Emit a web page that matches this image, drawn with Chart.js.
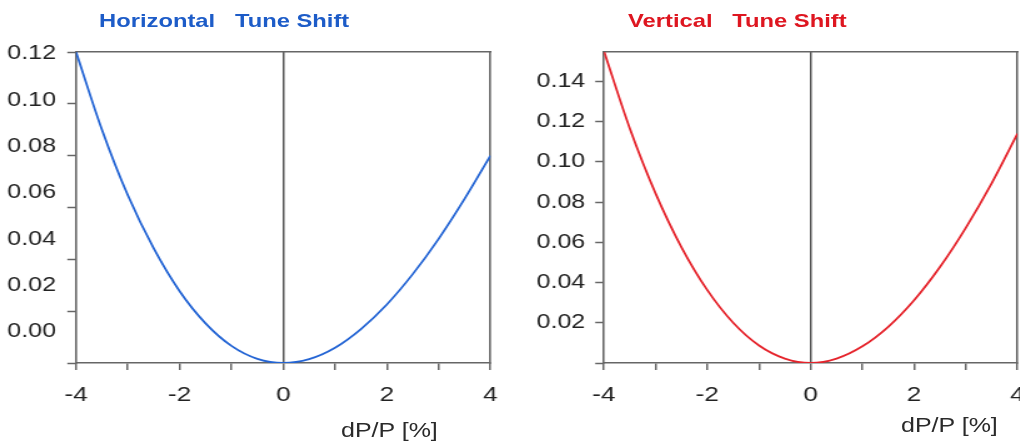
<!DOCTYPE html>
<html>
<head>
<meta charset="utf-8">
<script src="https://cdn.jsdelivr.net/npm/chart.js@4/dist/chart.umd.min.js"></script>
<style>
  html, body { margin: 0; padding: 0; background: #fff; }
  body { width: 1020px; height: 445px; overflow: hidden; position: relative; }
  .panel { position: absolute; top: 0; height: 445px; }
  .txt {
    position: absolute; white-space: pre; font-family: "Liberation Sans", Arial, sans-serif;
    font-size: 19px; line-height: 19px; transform: scaleX(1.25); transform-origin: left top;
  }
  .ttl { font-weight: bold; }
  .axt { color: #2a2a2a; font-size: 20px; line-height: 20px; }
</style>
</head>
<body>
<!-- canvases are drawn narrow and stretched 1.25x sideways, like the original figure -->
<div class="panel" style="left:0;width:513.75px"><canvas id="hChart" width="411" height="445" style="width:513.75px;height:445px"></canvas></div>
<div class="panel" style="left:510px;width:531.25px"><canvas id="vChart" width="425" height="445" style="width:531.25px;height:445px"></canvas></div>

<div class="txt ttl" style="left:99px;top:11px;color:#1d5cc8">Horizontal   Tune Shift</div>
<div class="txt ttl" style="left:628px;top:11px;color:#de1620">Vertical   Tune Shift</div>
<div class="txt axt" style="left:341px;top:420px">dP/P [%]</div>
<div class="txt axt" style="left:901px;top:415px">dP/P [%]</div>

<script>
// momentum deviation dP/P [%]
const dpValues = [-4, -3.5, -3, -2.5, -2, -1.5, -1, -0.5, 0, 0.5, 1, 1.5, 2, 2.5, 3, 3.5, 4];

// tune shift
const horizShift = [0.120, 0.090, 0.0647, 0.0442, 0.0277, 0.0153, 0.0066, 0.0016, 0,
                    0.0015, 0.0059, 0.0131, 0.0226, 0.0343, 0.0479, 0.0633, 0.080];
const vertShift = [0.155, 0.1166, 0.0842, 0.0575, 0.0362, 0.0200, 0.0087, 0.0022, 0,
                   0.0022, 0.0083, 0.0180, 0.0312, 0.0477, 0.0672, 0.0893, 0.114];

const xTickValues = [-4, -3, -2, -1, 0, 1, 2, 3, 4];
const xTickLabels = ["-4", "", "-2", "", "0", "", "2", "", "4"];

const hTickValues = [0, 0.02, 0.04, 0.06, 0.08, 0.10, 0.12];
const hTickLabels = ["0.00", "0.02", "0.04", "0.06", "0.08", "0.10", "0.12"];

const vTickValues = [0, 0.02, 0.04, 0.06, 0.08, 0.10, 0.12, 0.14];
const vTickLabels = ["", "0.02", "0.04", "0.06", "0.08", "0.10", "0.12", "0.14"];

Chart.defaults.font.family = '"Liberation Sans", Arial, sans-serif';
Chart.defaults.font.size = 20;
Chart.defaults.color = "#222";

const FRAME = "#666";

const setTicks = (values) => (scale) => {
  scale.ticks = values.map((v) => ({ value: v }));
};

function xAxis(height) {
  return {
    type: "linear",
    min: -4,
    max: 4,
    afterBuildTicks: setTicks(xTickValues),
    afterFit(scale) { scale.height = height; },
    ticks: {
      autoSkip: false,
      maxRotation: 0,
      padding: 13,
      font: { size: 21 },
      callback: (value, i) => xTickLabels[i]
    },
    grid: {
      color: (ctx) => (ctx.tick && ctx.tick.value === 0 ? "#555" : "rgba(0,0,0,0)"),
      lineWidth: 1.5,
      tickLength: 7,
      tickColor: FRAME,
      tickWidth: 1.5
    },
    border: { color: FRAME, width: 1.6 }
  };
}

function frameAxis(position) {
  const horiz = position === "top";
  return {
    type: "linear",
    position,
    min: 0,
    max: 1,
    ticks: { display: false },
    grid: { display: false, drawTicks: false },
    border: { display: true, color: FRAME, width: 1.6 },
    afterFit(scale) {
      if (horiz) scale.height = 0;
      else scale.width = 0;
    }
  };
}

function lineDataset(values, color) {
  return {
    data: dpValues.map((x, i) => ({ x, y: values[i] })),
    borderColor: color,
    borderWidth: 1.8,
    pointRadius: 0,
    cubicInterpolationMode: "monotone",
    xAxisID: "x",
    yAxisID: "y"
  };
}

const commonOptions = {
  responsive: false,
  animation: false,
  plugins: { legend: { display: false }, tooltip: { enabled: false } }
};

// horizontal panel: labels sit on their own axis, offset from the tick marks as in the original
new Chart(document.getElementById("hChart"), {
  type: "line",
  data: { datasets: [lineDataset(horizShift, "#2364d4")] },
  options: {
    ...commonOptions,
    layout: { padding: { top: 52, left: 0, right: 0, bottom: 0 } },
    scales: {
      x: xAxis(82),
      xTop: frameAxis("top"),
      yRight: frameAxis("right"),
      y: {
        type: "linear",
        position: "left",
        weight: 0,
        min: 0,
        max: 0.12,
        afterBuildTicks: setTicks(hTickValues),
        afterFit(scale) { scale.width = 0; },
        ticks: { display: false },
        grid: { drawOnChartArea: false, tickLength: 7, tickColor: FRAME, tickWidth: 1.5 },
        border: { color: FRAME, width: 1.6 }
      },
      yLabels: {
        type: "linear",
        position: "left",
        weight: 1,
        min: -0.0135,
        max: 0.1208,
        afterBuildTicks: setTicks(hTickValues),
        afterFit(scale) { scale.width = 60.8; },
        ticks: { padding: 16, callback: (value, i) => hTickLabels[i] },
        grid: { display: false, drawTicks: false },
        border: { display: false }
      }
    }
  }
});

new Chart(document.getElementById("vChart"), {
  type: "line",
  data: { datasets: [lineDataset(vertShift, "#e5232b")] },
  options: {
    ...commonOptions,
    layout: { padding: { top: 52, left: 0, right: 0, bottom: 0 } },
    scales: {
      x: xAxis(82),
      xTop: frameAxis("top"),
      yRight: frameAxis("right"),
      y: {
        type: "linear",
        position: "left",
        min: 0,
        max: 0.1546,
        afterBuildTicks: setTicks(vTickValues),
        afterFit(scale) { scale.width = 75.2; },
        ticks: { padding: 8, callback: (value, i) => vTickLabels[i] },
        grid: { drawOnChartArea: false, tickLength: 7, tickColor: FRAME, tickWidth: 1.5 },
        border: { color: FRAME, width: 1.6 }
      }
    }
  }
});
</script>
</body>
</html>
